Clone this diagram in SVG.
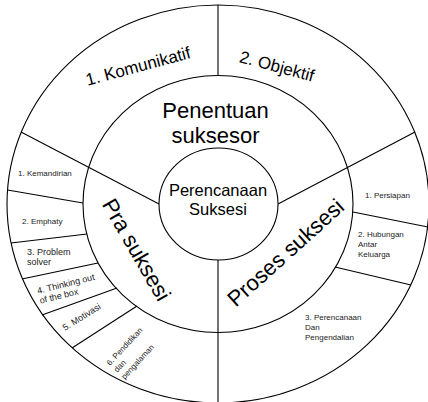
<svg xmlns="http://www.w3.org/2000/svg" width="428" height="402" viewBox="0 0 428 402">
<style>
.ring{fill:none;stroke:#000;stroke-width:1.1}
.div{stroke:#000;stroke-width:1.1;fill:none}
text{font-family:"Liberation Sans",Arial,sans-serif;fill:#000}
.big{font-size:22px}
.mid{font-size:17px}
.sm{font-size:8px;fill:#222}
.sm9{font-size:9px;fill:#222}
</style>
<rect width="428" height="402" fill="#fff"/>
<g id="rings">
<ellipse class="ring" cx="218" cy="204" rx="211" ry="199"/>
<ellipse class="ring" cx="218" cy="204" rx="135" ry="128.5"/>
</g>
<g id="connectors">
<line class="div" x1="218" y1="5" x2="218" y2="75.5"/>
<line class="div" x1="218" y1="260" x2="218" y2="403"/>
<line class="div" x1="21" y1="132" x2="159" y2="204"/>
<line class="div" x1="415" y1="132" x2="278" y2="204"/>
<line class="div" x1="7.5" y1="190" x2="83" y2="203"/>
<line class="div" x1="11" y1="243" x2="87" y2="234"/>
<line class="div" x1="22" y1="279" x2="98" y2="263"/>
<line class="div" x1="42" y1="315" x2="117" y2="288"/>
<line class="div" x1="72" y1="348" x2="137" y2="306"/>
<line class="div" x1="353" y1="212" x2="428" y2="227"/>
<line class="div" x1="335" y1="267" x2="411" y2="285"/>
</g>
<g id="center">
<ellipse cx="218.5" cy="204" rx="59.5" ry="56" fill="#fff" stroke="#000" stroke-width="1.1"/>
<text x="218" y="196" text-anchor="middle" style="font-size:16.5px">Perencanaan</text>
<text x="218" y="215" text-anchor="middle" style="font-size:16.5px">Suksesi</text>
</g>
<g id="penentuan">
<text class="big" x="215.5" y="118" text-anchor="middle">Penentuan</text>
<text class="big" x="215.5" y="143" text-anchor="middle">suksesor</text>
</g>
<g id="pra">
<text class="big" transform="translate(136,250) rotate(60)" x="0" y="7" text-anchor="middle">Pra suksesi</text>
</g>
<g id="proses">
<text class="big" transform="translate(286,253) rotate(-42)" x="0" y="7" text-anchor="middle">Proses suksesi</text>
</g>
<g id="komunikatif">
<text class="mid" transform="translate(138,66) rotate(-15)" x="0" y="6" text-anchor="middle">1. Komunikatif</text>
</g>
<g id="objektif">
<text class="mid" transform="translate(277,66) rotate(15)" x="0" y="6" text-anchor="middle">2. Objektif</text>
</g>
<g id="kemandirian"><text class="sm" x="18" y="176">1. Kemandirian</text></g>
<g id="emphaty"><text class="sm" x="22" y="224">2. Emphaty</text></g>
<g id="problem"><text class="sm9" x="27" y="255">3. Problem<tspan x="27" y="265">solver</tspan></text></g>
<g id="thinking"><text class="sm9" transform="translate(38,294) rotate(-14)">4. Thinking out<tspan x="0" dy="10">of the box</tspan></text></g>
<g id="motivasi"><text class="sm9" transform="translate(65,331) rotate(-32)">5. Motivasi</text></g>
<g id="pendidikan"><text class="sm" transform="translate(110,366) rotate(-47)">6. Pendidikan<tspan x="0" dy="10">dan</tspan><tspan x="0" dy="10">pengalaman</tspan></text></g>
<g id="persiapan"><text class="sm" x="365" y="198">1. Persiapan</text></g>
<g id="hubungan"><text class="sm" x="358" y="237">2. Hubungan<tspan x="358" y="247">Antar</tspan><tspan x="358" y="257">Keluarga</tspan></text></g>
<g id="perencanaan"><text class="sm" x="305" y="320">3. Perencanaan<tspan x="305" y="330">Dan</tspan><tspan x="305" y="340">Pengendalian</tspan></text></g>
</svg>
